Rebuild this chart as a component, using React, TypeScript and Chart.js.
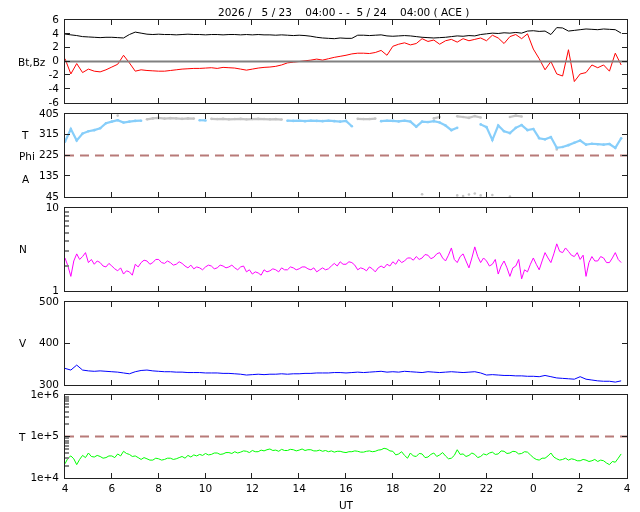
import React, { useEffect, useRef } from "react";
import { Chart, registerables } from "chart.js";

Chart.register(...registerables);

// ---------- data ----------
const START_HOUR = 4; // UT hour at x = 0
const STEP_HOURS = 0.25; // sample spacing (B, angle, V)
const STEP_FINE = 0.125; // sample spacing (N, T)
const hourTicks = [2, 4, 6, 8, 10, 12, 14, 16, 18, 20, 22];
const titleText = "2026 /   5 / 23    04:00 - -  5 / 24    04:00 ( ACE )";

const bt = [
  3.97, 3.85, 3.75, 3.6, 3.55, 3.5, 3.45, 3.5, 3.5, 3.45, 3.4, 3.9, 4.25, 4.1, 3.95, 3.9,
  3.95, 3.9, 3.9, 3.85, 3.9, 3.95, 3.9, 3.9, 3.85, 3.9, 3.9, 3.85, 3.9, 3.9, 3.85, 3.9,
  3.85, 3.9, 3.85, 3.85, 3.8, 3.85, 3.8, 3.75, 3.8, 3.75, 3.65, 3.5, 3.4, 3.35, 3.3, 3.4,
  3.35, 3.35, 3.8, 3.8, 3.75, 3.8, 3.85, 3.7, 3.65, 3.7, 3.75, 3.7, 3.6, 3.5, 3.45, 3.4,
  3.45, 3.5, 3.6, 3.7, 3.65, 3.75, 3.7, 3.9, 4.0, 4.1, 4.05, 4.15, 4.1, 4.2, 4.1, 4.4,
  4.45, 4.35, 4.4, 3.9, 4.9, 4.85, 4.4, 4.5, 4.6, 4.7, 4.65, 4.6, 4.7, 4.65, 4.6, 4.1,
];
const bz = [
  0.4, -1.8, -0.3, -1.6, -1.1, -1.4, -1.5, -1.2, -0.8, -0.4, 0.9, -0.2, -1.4, -1.2, -1.3, -1.35,
  -1.4, -1.4, -1.3, -1.2, -1.1, -1.05, -1.0, -1.0, -0.95, -0.9, -1.0, -0.85, -0.9, -0.95, -1.1, -1.25,
  -1.1, -0.95, -0.85, -0.8, -0.7, -0.5, -0.2, -0.1, 0.0, 0.1, 0.2, 0.35, 0.2, 0.4, 0.6, 0.75,
  0.9, 1.1, 1.2, 1.2, 1.15, 1.3, 1.6, 0.9, 2.2, 2.5, 2.7, 2.4, 2.6, 3.3, 2.9, 3.1,
  2.5, 3.0, 3.2, 2.8, 3.3, 3.0, 3.2, 3.4, 3.0, 3.8, 3.4, 2.6, 3.6, 3.9, 3.3, 4.0,
  1.8, 0.4, -1.2, 0.0, -1.8, -2.1, 1.7, -2.9, -1.8, -1.6, -0.5, -0.9, -0.5, -1.4, 1.2, -0.5,
];
const N = null;
const phiBlue = [
  285, 340, 290, 320, 330, 335, 343, 365, 372, 378, 368, 372, 375, 376, N, N,
  N, N, N, N, N, N, N, 378, 377, N, N, N, N, N, N, N,
  N, N, N, N, N, N, 376, 375, 376, 374, 376, 375, 374, 376, 374, 372,
  375, 352, N, N, N, N, 374, 376, 375, 373, 376, 372, 350, 372, 370, 374,
  368, 355, 335, 345, N, N, N, 360, 348, 292, 355, 330, 322, 345, 357, 335,
  340, 300, 295, 305, 258, 262, 270, 280, 290, 272, 276, 274, 272, 275, 258, 300,
];
const phiGrey = [
  N, N, N, N, N, N, N, N, N, 398, N, N, N, N, 382, 386,
  388, 385, 387, 386, 384, 386, 385, N, N, 384, 383, 384, 382, 383, 384, 382,
  383, 384, 383, 382, 383, 381, N, N, N, N, N, N, N, N, N, N,
  N, N, 384, 383, 383, 385, N, N, N, N, N, N, N, 57, N, 386,
  392, N, N, 395, 392, 388, 396, 390, N, N, N, N, 392, 398, 394, N,
  N, N, N, N, 251, N, N, N, N, N, N, N, N, N, N, N,
];
const phiGreyLowIdx = [67, 68, 69, 70, 71, 73, 76];
const phiGreyLowVal = [52, 49, 56, 60, 52, 54, 47];
const density = [
  2.5, 2.0, 1.5, 2.3, 2.8, 2.4, 2.6, 2.9, 2.2, 2.4, 2.1, 2.3, 2.2, 2.0, 1.95, 2.15,
  2.0, 1.85, 1.75, 1.9, 1.6, 1.75, 1.7, 1.55, 2.1, 1.95, 2.2, 2.35, 2.3, 2.1, 2.2, 2.4,
  2.4, 2.2, 2.15, 2.3, 2.2, 2.05, 2.1, 2.25, 2.15, 2.0, 1.9, 2.05, 1.85, 1.95, 1.9, 1.8,
  1.95, 2.05, 2.0, 1.85, 1.9, 2.05, 2.0, 1.9, 1.95, 2.05, 1.9, 1.8, 1.95, 2.0, 1.7, 1.8,
  1.6, 1.7, 1.65, 1.55, 1.8, 1.7, 1.75, 1.85, 1.8, 1.7, 1.9, 1.8, 1.8, 1.95, 1.9, 1.8,
  1.85, 1.95, 1.95, 1.85, 1.8, 1.9, 1.7, 1.8, 1.9, 1.8, 1.85, 2.0, 2.15, 2.0, 2.25, 2.1,
  2.1, 2.25, 2.2, 2.05, 1.8, 1.9, 1.85, 1.75, 1.95, 1.85, 1.7, 1.9, 2.0, 1.9, 2.1, 2.0,
  2.25, 2.1, 2.4, 2.2, 2.3, 2.5, 2.5, 2.35, 2.6, 2.4, 2.5, 2.75, 2.7, 2.45, 2.55, 2.8,
  2.9, 2.5, 2.3, 2.7, 3.3, 2.4, 2.2, 2.6, 2.8, 2.3, 1.9, 2.5, 3.4, 2.6, 2.2, 2.5,
  2.3, 2.0, 2.1, 2.4, 1.6, 2.0, 2.3, 1.9, 1.5, 1.9, 2.0, 2.4, 1.4, 1.8, 1.7, 2.1,
  2.5, 2.1, 1.8, 2.3, 2.9, 2.5, 2.2, 2.8, 3.7, 3.0, 2.9, 3.3, 3.0, 2.7, 2.6, 2.9,
  2.4, 2.7, 1.5, 2.2, 2.6, 2.3, 2.3, 2.6, 2.5, 2.2, 2.2, 2.5, 2.9, 2.4, 2.2,
];
const speed = [
  340, 336, 348, 336, 334, 333, 334, 333, 332, 331, 329, 327, 332, 335, 336, 334,
  333, 332, 332, 331, 331, 330, 330, 330, 329, 329, 329, 328, 328, 327, 326, 324,
  325, 326, 325, 326, 326, 327, 326, 327, 327, 328, 328, 329, 329, 329, 330, 330,
  329, 330, 331, 330, 331, 332, 333, 331, 332, 331, 333, 332, 331, 330, 332, 331,
  330, 331, 332, 331, 330, 331, 332, 329, 324, 325, 324, 323, 323, 322, 322, 321,
  321, 320, 323, 320, 317, 316, 315, 314, 320, 314, 312, 310, 309, 309, 307, 310,
];
// temperature in thousands of K
const temperatureK = [
  22, 30, 34, 29, 21, 28, 35, 31, 40, 33, 32, 35, 33, 30, 31, 34,
  34, 31, 38, 34, 44, 39, 37, 33, 34, 31, 28, 31, 29, 27, 27, 30,
  29, 27, 28, 30, 30, 28, 29, 31, 33, 30, 35, 32, 36, 34, 37, 35,
  39, 36, 37, 40, 40, 37, 38, 41, 41, 39, 43, 40, 42, 45, 44, 41,
  46, 43, 43, 47, 45, 48, 50, 46, 47, 44, 49, 46, 46, 49, 48, 45,
  47, 50, 46, 48, 48, 45, 45, 47, 44, 46, 43, 45, 42, 44, 44, 42,
  41, 43, 43, 45, 44, 42, 42, 44, 45, 43, 44, 47, 48, 52, 50, 45,
  44, 36, 38, 43, 35, 30, 40, 34, 33, 39, 38, 31, 32, 37, 40, 33,
  36, 41, 34, 29, 30, 35, 48, 37, 38, 33, 35, 40, 37, 31, 33, 38,
  36, 40, 42, 37, 38, 45, 44, 39, 40, 44, 43, 38, 39, 43, 42, 36,
  31, 28, 27, 30, 30, 34, 40, 32, 29, 27, 28, 30, 27, 29, 28, 26,
  26, 28, 27, 25, 26, 28, 25, 27, 26, 23, 21, 25, 24, 30, 38,
];

// ---------- helpers ----------
const series = (vals: (number | null)[], step = STEP_HOURS, scale = 1) =>
  vals.map((v, i) => ({ x: i * step, y: v === null ? null : v * scale }));
const flat = (v: number) => [{ x: 0, y: v }, { x: 24, y: v }];
const FONT = "DejaVu Sans";
const FONT_SIZE = 10.5;
const DASH_COLOR = "#b87a78";
const FRAME_COLOR = "#222";

type FrameCfg = { left?: number[]; right?: number[]; minor?: number[] };

function makeFramePlugin(cfg: FrameCfg) {
  return {
    id: "frame",
    afterDraw(chart: any) {
      const ctx = chart.ctx;
      const ca = chart.chartArea;
      const L = Math.round(ca.left);
      const R = Math.round(ca.right);
      const T = Math.round(ca.top);
      const B = Math.round(ca.bottom);
      const xs = chart.scales["x"];
      const ys = chart.scales["y"];
      ctx.save();
      try {
        ctx.fillStyle = "#888";
        for (const v of cfg.minor || []) {
          const py = Math.round(ys.getPixelForValue(v));
          ctx.fillRect(L, py - 1, 4, 2);
        }
        ctx.fillStyle = FRAME_COLOR;
        ctx.fillRect(L - 1, T - 1, R - L + 2, 1);
        ctx.fillRect(L - 1, B, R - L + 2, 1);
        ctx.fillRect(L - 1, T - 1, 1, B - T + 2);
        ctx.fillRect(R, T - 1, 1, B - T + 2);
        for (const v of hourTicks) {
          const px = Math.round(xs.getPixelForValue(v));
          ctx.fillRect(px - 1, B - 5, 1, 5);
          ctx.fillRect(px - 1, T, 1, 5);
        }
        for (const v of cfg.left || []) {
          const py = Math.round(ys.getPixelForValue(v));
          ctx.fillRect(L, py - 1, 5, 1);
        }
        for (const v of cfg.right || []) {
          const py = Math.round(ys.getPixelForValue(v));
          ctx.fillRect(R - 5, py - 1, 5, 1);
        }
      } catch (e: any) {
        ctx.fillStyle = "red";
        ctx.fillText(String(e && e.message), L + 10, T + 20);
      }
      ctx.restore();
    },
  };
}

type Panel = {
  top: number;
  bottom: number;
  type: "linear" | "logarithmic";
  min: number;
  max: number;
  ticks: number[];
  label: (v: number) => string;
  frame: FrameCfg;
  datasets: any[];
  showX?: boolean;
};

const lineDs = (data: any[], color: string, width = 1, extra: any = {}) => ({
  data,
  borderColor: color,
  backgroundColor: color,
  borderWidth: width,
  pointRadius: 0,
  spanGaps: false,
  tension: 0,
  ...extra,
});

const phiPoints = phiGreyLowIdx.map((i, k) => ({ x: i * STEP_HOURS, y: phiGreyLowVal[k] }));

const panels: Panel[] = [
  {
    top: 20, bottom: 103, type: "linear", min: -6, max: 6,
    ticks: [-6, -4, -2, 0, 2, 4, 6], label: (v) => String(v),
    frame: { left: [-4, -2, 0, 2, 4], right: [-4, -2, 0, 2, 4] },
    datasets: [
      lineDs(flat(0), "#808080", 2),
      lineDs(series(bt), "#000000"),
      lineDs(series(bz), "#ff0000"),
    ],
  },
  {
    top: 114, bottom: 197, type: "linear", min: 45, max: 405,
    ticks: [45, 135, 225, 315, 405], label: (v) => String(v),
    frame: { left: [135, 225, 315], right: [135, 225, 315] },
    datasets: [
      lineDs(series(phiBlue), "#87cefa", 2.2, { pointRadius: 1.3, pointBorderWidth: 0 }),
      lineDs(series(phiGrey), "#c4c4c4", 2.2, { pointRadius: 1.3, pointBorderWidth: 0 }),
      lineDs(phiPoints, "#c4c4c4", 0, { showLine: false, pointRadius: 1.3, pointBorderWidth: 0 }),
      lineDs(flat(225), DASH_COLOR, 2, { borderDash: [9, 6] }),
    ],
  },
  {
    top: 208, bottom: 291, type: "logarithmic", min: 1, max: 10,
    ticks: [1, 10], label: (v) => String(v),
    frame: { minor: [2, 3, 4, 5, 6, 7, 8, 9] },
    datasets: [lineDs(series(density, STEP_FINE), "#ff00ff")],
  },
  {
    top: 302, bottom: 385, type: "linear", min: 300, max: 500,
    ticks: [300, 400, 500], label: (v) => String(v),
    frame: { left: [400], right: [400] },
    datasets: [lineDs(series(speed), "#0000ff")],
  },
  {
    top: 395, bottom: 478, type: "logarithmic", min: 1e4, max: 1e6,
    ticks: [1e4, 1e5, 1e6], label: (v) => "1e+" + Math.round(Math.log10(v)),
    frame: {
      left: [1e5], right: [1e5],
      minor: [2e4, 3e4, 4e4, 5e4, 6e4, 7e4, 8e4, 9e4, 2e5, 3e5, 4e5, 5e5, 6e5, 7e5, 8e5, 9e5],
    },
    datasets: [
      lineDs(series(temperatureK, STEP_FINE, 1000), "#00ff00"),
      lineDs(flat(1e5), DASH_COLOR, 2, { borderDash: [9, 6] }),
    ],
    showX: true,
  },
];

function PanelChart({ p }: { p: Panel }) {
  const ref = useRef<HTMLCanvasElement>(null);
  useEffect(() => {
    if (!ref.current) return;
    const xAxisH = 22;
    const xScale: any = {
      type: "linear",
      min: 0,
      max: 24,
      display: !!p.showX,
      grid: { display: false, drawTicks: false },
      border: { display: false },
      ticks: {
        stepSize: 2,
        autoSkip: false,
        maxRotation: 0,
        padding: 5,
        color: "#000",
        font: { family: FONT, size: FONT_SIZE },
        callback: (v: any) => String((START_HOUR + Number(v)) % 24),
      },
    };
    if (p.showX) {
      xScale.afterFit = (s: any) => {
        s.height = xAxisH;
      };
    }
    const chart = new Chart(ref.current, {
      type: "line",
      data: { datasets: p.datasets },
      plugins: [makeFramePlugin(p.frame)],
      options: {
        animation: false,
        responsive: false,
        events: [],
        layout: {
          padding: {
            left: 0,
            right: 13,
            top: p.top,
            bottom: 512 - p.bottom - (p.showX ? xAxisH : 0),
          },
        },
        plugins: {
          legend: { display: false },
          tooltip: { enabled: false },
        },
        scales: {
          x: xScale,
          y: {
            type: p.type,
            min: p.min,
            max: p.max,
            grid: { display: false, drawTicks: false },
            border: { display: false },
            afterBuildTicks: (s: any) => {
              s.ticks = p.ticks.map((v) => ({ value: v }));
            },
            ticks: {
              autoSkip: false,
              padding: 6,
              color: "#000",
              font: { family: FONT, size: FONT_SIZE },
              callback: (v: any) => p.label(Number(v)),
            },
            afterFit: (s: any) => {
              s.width = 65;
            },
          },
        },
      } as any,
    });
    return () => chart.destroy();
  }, [p]);
  return (
    <canvas
      ref={ref}
      width={640}
      height={512}
      style={{ position: "absolute", left: 0, top: 0, width: 640, height: 512 }}
    />
  );
}

const sideLabels = [
  { text: "Bt,Bz", x: 18, y: 62 },
  { text: "T", x: 22, y: 135 },
  { text: "Phi", x: 19, y: 156 },
  { text: "A", x: 22, y: 179 },
  { text: "N", x: 19, y: 249 },
  { text: "V", x: 19, y: 343 },
  { text: "T", x: 19, y: 437 },
];

export default function App() {
  const textStyle: React.CSSProperties = {
    position: "absolute",
    fontFamily: FONT,
    fontSize: FONT_SIZE,
    color: "#000",
    lineHeight: "14px",
    whiteSpace: "pre",
  };
  return (
    <div
      style={{
        position: "fixed",
        left: 0,
        top: 0,
        width: 640,
        height: 512,
        background: "#fff",
        overflow: "hidden",
      }}
    >
      {panels.map((p, i) => (
        <PanelChart key={i} p={p} />
      ))}
      <div style={{ ...textStyle, left: 218, top: 5 }}>{titleText}</div>
      {sideLabels.map((l, i) => (
        <div key={i} style={{ ...textStyle, left: l.x, top: l.y - 7 }}>
          {l.text}
        </div>
      ))}
      <div style={{ ...textStyle, left: 0, width: 692, top: 498, textAlign: "center" }}>UT</div>
    </div>
  );
}
